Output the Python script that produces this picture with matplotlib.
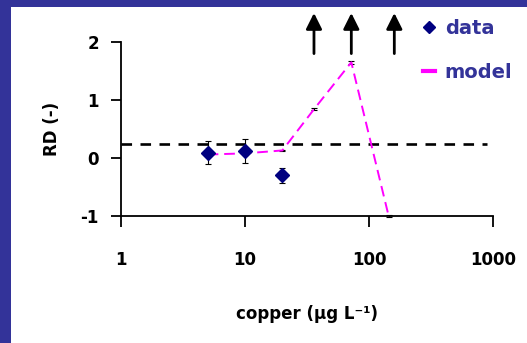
import matplotlib
matplotlib.use('Agg')
import matplotlib.pyplot as plt
from matplotlib.lines import Line2D
from matplotlib.patches import Rectangle

plt.rcParams['font.family'] = 'DejaVu Sans'
plt.rcParams['font.weight'] = 'bold'
plt.rcParams['axes.unicode_minus'] = False

# measured data
data_x = [5, 10, 20]
data_y = [0.09, 0.125, -0.30]
data_err = [0.20, 0.21, 0.125]

# model prediction
model_x = [5, 10, 20, 36, 72, 144]
model_y = [0.06, 0.08, 0.13, 0.84, 1.65, -1.0]
model_err = [0.02, 0.02, 0.01, 0.02, 0.03, 0.01]

threshold = 0.235
arrow_x = [36, 72, 160]

blue = '#333399'

fig = plt.figure(figsize=(5.27, 3.43), dpi=100, facecolor=blue)
fig.patches.append(Rectangle((11 / 527, 0), 1, 1 - 7 / 343, transform=fig.transFigure,
                             facecolor='white', edgecolor='none', zorder=-1))
ax = fig.add_axes([121 / 527, 1 - 216 / 343, 372 / 527, 174 / 343])
ax.set_facecolor('none')

ax.set_xscale('log')
ax.set_xlim(1, 1000)
ax.set_ylim(-1, 2)

# threshold line
ax.plot([1, 900], [threshold, threshold], color='black', lw=1.9,
        linestyle=(0, (4, 3.2)), zorder=2)

# model
ax.errorbar(model_x, model_y, yerr=model_err, fmt='none', ecolor='black',
            elinewidth=0.8, capsize=2.5, capthick=0.8, zorder=3, clip_on=False)
ax.plot(model_x, model_y, color='#ff00ff', lw=1.4, linestyle=(0, (5.5, 3)),
        zorder=3, clip_on=False)

# data
ax.errorbar(data_x, data_y, yerr=data_err, fmt='D', color='#000080', ms=7,
            ecolor='black', elinewidth=0.8, capsize=2.5, capthick=0.8, zorder=4)

# arrows above the plot
for xa in arrow_x:
    ax.annotate('', xy=(xa, 2.50), xytext=(xa, 1.80), annotation_clip=False,
                arrowprops=dict(arrowstyle='-|>', lw=2, color='black',
                                mutation_scale=24, shrinkA=0, shrinkB=0))

ax.spines['top'].set_visible(False)
ax.spines['right'].set_visible(False)
for s in ['left', 'bottom']:
    ax.spines[s].set_linewidth(1.3)
ax.set_xticks([1, 10, 100, 1000])
ax.set_xticklabels(['1', '10', '100', '1000'])
ax.minorticks_off()
ax.set_yticks([-1, 0, 1, 2])
ax.tick_params(axis='x', length=8, width=1.3, pad=17, labelsize=12)
ax.tick_params(axis='y', length=7, width=1.3, pad=9, labelsize=12)

ax.set_xlabel('copper (\u00b5g L\u207b\u00b9)', fontsize=12, fontweight='bold', labelpad=26)
ax.set_ylabel('RD (-)', fontsize=12, fontweight='bold', labelpad=14)

handles = [Line2D([], [], marker='D', color='#000080', linestyle='none', ms=6),
           Line2D([], [], color='#ff00ff', lw=3)]
leg = ax.legend(handles, ['data', 'model'], loc='upper left',
                bbox_to_anchor=(405 / 527, 1 - 1 / 343), bbox_transform=fig.transFigure,
                frameon=False, handlelength=0.62, handletextpad=0.52, labelspacing=1.3,
                prop={'size': 14, 'weight': 'bold'})
for t in leg.get_texts():
    t.set_color(blue)

fig.savefig('out.png', dpi=100, facecolor=blue)
